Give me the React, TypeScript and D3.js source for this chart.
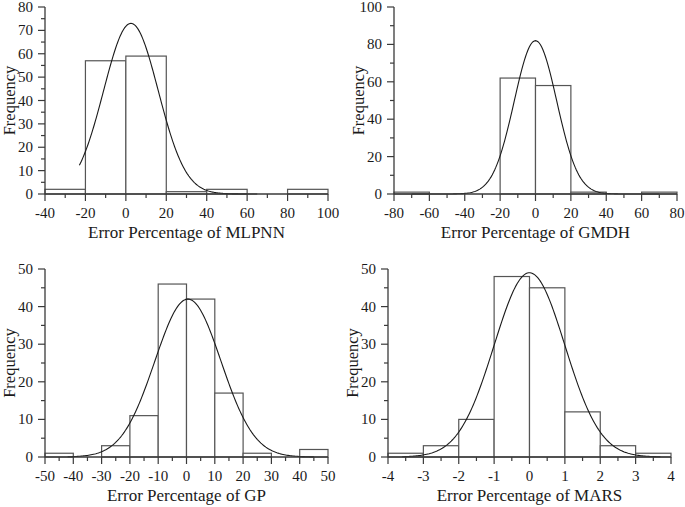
import React from "react";
import * as d3 from "d3";

// ---- data ----
const mlpnnEdges = [-40, -20, 0, 20, 40, 60, 80, 100];
const mlpnnCounts = [2, 57, 59, 1, 2, 0, 2];
const gmdhEdges = [-80, -60, -40, -20, 0, 20, 40, 60, 80];
const gmdhCounts = [1, 0, 0, 62, 58, 1, 0, 1];
const gpEdges = [-50, -40, -30, -20, -10, 0, 10, 20, 30, 40, 50];
const gpCounts = [1, 0, 3, 11, 46, 42, 17, 1, 0, 2];
const marsEdges = [-4, -3, -2, -1, 0, 1, 2, 3, 4];
const marsCounts = [1, 3, 10, 48, 45, 12, 3, 1];

const titles = [
  "Error Percentage of MLPNN",
  "Error Percentage of GMDH",
  "Error Percentage of GP",
  "Error Percentage of MARS",
];
const yMaxes = [80, 100, 50, 50];
const yMajorSteps = [10, 20, 10, 10];
const xMajorSteps = [20, 20, 10, 1];
// normal fit curves: peak height, mean, sd, drawn range
const fitPeaks = [73, 82, 42, 49];
const fitMeans = [2.5, 0, 0.5, 0];
const fitSDs = [13.5, 12, 11.7, 1.0];
const fitFrom = [-23, -70, -42, -3.6];
const fitTo = [65, 70, 45, 3.7];

const edgesList = [mlpnnEdges, gmdhEdges, gpEdges, marsEdges];
const countsList = [mlpnnCounts, gmdhCounts, gpCounts, marsCounts];

// layout
const panelBoxes = [
  { x0: 45, x1: 328, yT: 7, yB: 194 },
  { x0: 394, x1: 677, yT: 7, yB: 194 },
  { x0: 45, x1: 328, yT: 269, yB: 457 },
  { x0: 388, x1: 671, yT: 269, yB: 457 },
];

const FONT = "Liberation Serif";
const AXIS = "#3a3a3a";
const BAR = "#555";
const CURVE = "#1a1a1a";

function fmt(v: number) {
  return String(Math.round(v * 1000) / 1000);
}

function Panel({ i }: { i: number }) {
  const box = panelBoxes[i];
  const edges = edgesList[i];
  const counts = countsList[i];
  const x = d3.scaleLinear().domain([edges[0], edges[edges.length - 1]]).range([box.x0, box.x1]);
  const y = d3.scaleLinear().domain([0, yMaxes[i]]).range([box.yB, box.yT]);

  const xs = xMajorSteps[i];
  const xMajor = d3.range(edges[0], edges[edges.length - 1] + xs / 2, xs);
  const xMinor = d3.range(edges[0] + xs / 2, edges[edges.length - 1], xs);
  const ys = yMajorSteps[i];
  const yMajor = d3.range(0, yMaxes[i] + ys / 2, ys);
  const yMinor = d3.range(ys / 2, yMaxes[i], ys);

  const n = 200;
  const pts = d3.range(n + 1).map((k) => {
    const xv = fitFrom[i] + ((fitTo[i] - fitFrom[i]) * k) / n;
    const z = (xv - fitMeans[i]) / fitSDs[i];
    return [xv, fitPeaks[i] * Math.exp(-0.5 * z * z)] as [number, number];
  });
  const line = d3.line<[number, number]>().x((d) => x(d[0])).y((d) => y(d[1]));

  const cx = (box.x0 + box.x1) / 2;
  const cy = (box.yT + box.yB) / 2;
  const txt = { fontFamily: FONT, fill: "#1a1a1a" } as React.CSSProperties;

  return (
    <g>
      {counts.map((c, k) =>
        c > 0 ? (
          <rect
            key={k}
            x={x(edges[k])}
            y={y(c)}
            width={x(edges[k + 1]) - x(edges[k])}
            height={y(0) - y(c)}
            fill="white"
            stroke={BAR}
            strokeWidth={1.2}
          />
        ) : null
      )}
      <path d={line(pts) || ""} fill="none" stroke={CURVE} strokeWidth={1.1} />
      <line x1={box.x0} x2={box.x1} y1={box.yB} y2={box.yB} stroke={AXIS} strokeWidth={1.3} />
      <line x1={box.x0} x2={box.x0} y1={box.yB} y2={box.yT} stroke={AXIS} strokeWidth={1.3} />
      {xMajor.map((v) => (
        <g key={"xm" + v}>
          <line x1={x(v)} x2={x(v)} y1={box.yB} y2={box.yB + 7} stroke={AXIS} strokeWidth={1.2} />
          <text x={x(v)} y={box.yB + 24} textAnchor="middle" style={{ ...txt, fontSize: 15 }}>
            {fmt(v)}
          </text>
        </g>
      ))}
      {xMinor.map((v) => (
        <line key={"xn" + v} x1={x(v)} x2={x(v)} y1={box.yB} y2={box.yB + 4} stroke={AXIS} strokeWidth={1.2} />
      ))}
      {yMajor.map((v) => (
        <g key={"ym" + v}>
          <line x1={box.x0 - 7} x2={box.x0} y1={y(v)} y2={y(v)} stroke={AXIS} strokeWidth={1.2} />
          <text x={box.x0 - 12} y={y(v) + 5} textAnchor="end" style={{ ...txt, fontSize: 15 }}>
            {fmt(v)}
          </text>
        </g>
      ))}
      {yMinor.map((v) => (
        <line key={"yn" + v} x1={box.x0 - 4} x2={box.x0} y1={y(v)} y2={y(v)} stroke={AXIS} strokeWidth={1.2} />
      ))}
      <text x={cx} y={box.yB + 44} textAnchor="middle" style={{ ...txt, fontSize: 17 }}>
        {titles[i]}
      </text>
      <text
        transform={`translate(${box.x0 - 30},${cy}) rotate(-90)`}
        textAnchor="middle"
        style={{ ...txt, fontSize: 16.5 }}
      >
        Frequency
      </text>
    </g>
  );
}

export default function App() {
  return (
    <svg
      width={685}
      height={507}
      style={{ position: "absolute", left: 0, top: 0, background: "white" }}
    >
      <rect width={685} height={507} fill="white" />
      {[0, 1, 2, 3].map((i) => (
        <Panel key={i} i={i} />
      ))}
    </svg>
  );
}
